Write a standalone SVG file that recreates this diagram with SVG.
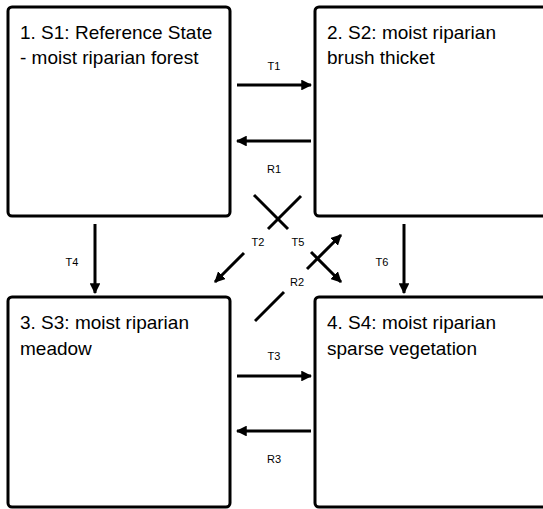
<svg xmlns="http://www.w3.org/2000/svg" width="543" height="509" viewBox="0 0 543 509">
<style>
.box{fill:#fff;stroke:#000;stroke-width:3}
.t{font-family:"Liberation Sans",Arial,sans-serif;font-size:19px;fill:#000}
.l{font-family:"Liberation Sans",Arial,sans-serif;font-size:11px;fill:#000;text-anchor:middle}
.c{stroke:#000;stroke-width:3;fill:none}
.ca{stroke:#000;stroke-width:3;fill:none;marker-end:url(#ah)}
</style>
<defs>
<marker id="ah" viewBox="0 0 10 10" refX="9" refY="5" markerWidth="3.6" markerHeight="3.6" markerUnits="strokeWidth" orient="auto">
<path d="M0,0 L10,5 L0,10 z" fill="#000"/>
</marker>
</defs>
<rect width="543" height="509" fill="#fff"/>
<g id="s1"><rect class="box" x="8" y="7" width="222" height="209" rx="4"/><text class="t" x="20" y="39">1. S1: Reference State</text><text class="t" x="20" y="64">- moist riparian forest</text></g>
<g id="s2"><rect class="box" x="315" y="7" width="240" height="209" rx="4"/><text class="t" x="327" y="39">2. S2: moist riparian</text><text class="t" x="327" y="64">brush thicket</text></g>
<g id="s3"><rect class="box" x="8" y="297" width="222" height="210" rx="4"/><text class="t" x="20" y="329">3. S3: moist riparian</text><text class="t" x="20" y="355">meadow</text></g>
<g id="s4"><rect class="box" x="315" y="297" width="240" height="210" rx="4"/><text class="t" x="327" y="329">4. S4: moist riparian</text><text class="t" x="327" y="355">sparse vegetation</text></g>
<g id="connectors">
<line class="ca" x1="237" y1="85" x2="311" y2="85"/>
<line class="ca" x1="311" y1="141" x2="237" y2="141"/>
<line class="ca" x1="237" y1="376" x2="311" y2="376"/>
<line class="ca" x1="311" y1="431" x2="237" y2="431"/>
<line class="ca" x1="95" y1="224" x2="95" y2="293"/>
<line class="ca" x1="404" y1="224" x2="404" y2="293"/>
<line class="c" x1="301" y1="196" x2="268" y2="229"/>
<line class="ca" x1="244" y1="253" x2="215" y2="282"/>
<line class="c" x1="254" y1="195" x2="288" y2="229"/>
<line class="ca" x1="311" y1="252" x2="341" y2="282"/>
<line class="c" x1="255" y1="321" x2="284" y2="292"/>
<line class="ca" x1="307" y1="269" x2="341" y2="235"/>
</g>
<g id="labels">
<text class="l" x="274" y="70">T1</text>
<text class="l" x="274" y="173">R1</text>
<text class="l" x="274" y="360">T3</text>
<text class="l" x="274" y="463">R3</text>
<text class="l" x="72" y="266">T4</text>
<text class="l" x="382" y="266">T6</text>
<text class="l" x="258" y="246">T2</text>
<text class="l" x="298" y="246">T5</text>
<text class="l" x="297" y="286">R2</text>
</g>
</svg>
